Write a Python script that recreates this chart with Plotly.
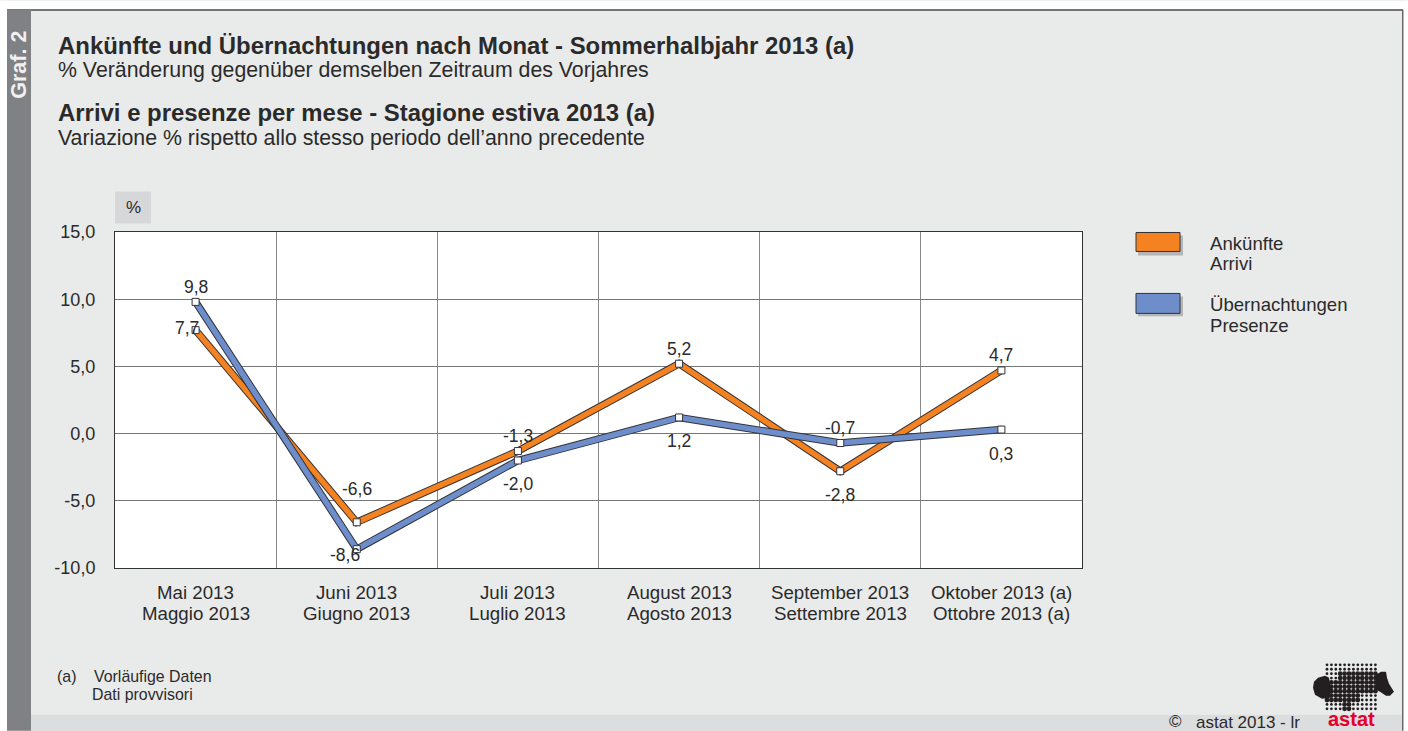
import numpy as np
import plotly.graph_objects as go

W, H = 1408, 731
LEFT, RIGHT, TOP, BOTTOM = 115, 1082, 231.5, 568
FONT = "Liberation Sans"
INK = "#2b2a2b"
PANEL = "#e9ebea"
ORANGE = "#f58220"
BLUE = "#6d8ecb"
OUTLINE = "#333338"

months_de = ["Mai 2013", "Juni 2013", "Juli 2013", "August 2013", "September 2013", "Oktober 2013 (a)"]
months_it = ["Maggio 2013", "Giugno 2013", "Luglio 2013", "Agosto 2013", "Settembre 2013", "Ottobre 2013 (a)"]
arrivals = [7.7, -6.6, -1.3, 5.2, -2.8, 4.7]
stays = [9.8, -8.6, -2.0, 1.2, -0.7, 0.3]
y_ticks = [-10, -5, 0, 5, 10, 15]
y_tick_labels = ["-10,0", "-5,0", "0,0", "5,0", "10,0", "15,0"]
arrival_offsets = [(-9, 2), (0, 33), (0, 15), (0, 15), (0, -24), (0, 15)]
stay_offsets = [(0, 15), (-12, -6), (0, -24), (0, -24), (0, 15), (0, -24)]


def px(x):
    return (x - LEFT) / (RIGHT - LEFT)


def py(y):
    return (BOTTOM - y) / (BOTTOM - TOP)


def rect(x0, y0, x1, y1, fill, line=None, lw=0, layer="below"):
    return dict(type="rect", xref="paper", yref="paper", x0=px(x0), x1=px(x1), y0=py(y0), y1=py(y1),
                fillcolor=fill, line=dict(color=line or fill, width=lw), layer=layer)


def note(x, y, text, size=17, bold=False, anchor="left", color=INK, angle=0):
    t = f"<b>{text}</b>" if bold else text
    return dict(xref="paper", yref="paper", x=px(x), y=py(y), text=t, showarrow=False, xanchor=anchor,
                yanchor="middle", textangle=angle, align="left", font=dict(family=FONT, size=size, color=color))


def polygon(points, fill):
    return dict(type="path", xref="paper", yref="paper", layer="above", fillcolor=fill, line=dict(width=0),
                path="M " + " L ".join(f"{px(x):.5f} {py(y):.5f}" for x, y in points) + " Z")


def dot(x, y, r, fill):
    return dict(type="circle", xref="paper", yref="paper", layer="above", fillcolor=fill, line=dict(width=0),
                x0=px(x - r), x1=px(x + r), y0=py(y + r), y1=py(y - r))


fig = go.Figure()
for values, colour in ((arrivals, ORANGE), (stays, BLUE)):
    fig.add_trace(go.Scatter(x=months_de, y=values, mode="lines", line=dict(color=OUTLINE, width=7.5), hoverinfo="skip"))
    fig.add_trace(go.Scatter(x=months_de, y=values, mode="lines+markers", line=dict(color=colour, width=5.5),
                             marker=dict(symbol="square", size=7, color="white", line=dict(color=OUTLINE, width=1))))

shapes = [
    rect(0, 0, W, 9, "white"), rect(0, 0, 7, H, "white"), rect(1403, 0, W, H, "white"),
    rect(7, 8.5, 1403, 10, "#4a4a4a"), rect(1402, 9, 1403.5, H, "#6a6a6a"),
    rect(7, 9, 31, H, "#808184"), rect(31, 715, 1402, H, "#dcddde"),
    rect(115, 191, 151, 223, "#d6d7d9"),
    rect(1138, 235, 1183, 255, "#b4b5b7"), rect(1136, 232, 1180, 251, ORANGE, OUTLINE, 1),
    rect(1138, 296, 1183, 316, "#b4b5b7"), rect(1136, 293, 1180, 313, BLUE, OUTLINE, 1),
]

annotations = [
    note(19, 64, "Graf. 2", 21.5, True, "center", "#f0f0f0", -90),
    note(55.5, 44.5, "Ankünfte und Übernachtungen nach Monat - Sommerhalbjahr 2013 (a)", 24 * 797 / 799, True),
    note(55.5, 69, "% Veränderung gegenüber demselben Zeitraum des Vorjahres", 21.3),
    note(55.5, 112, "Arrivi e presenze per mese - Stagione estiva 2013 (a)", 24 * 797 / 799, True),
    note(55.5, 137, "Variazione % rispetto allo stesso periodo dell’anno precedente", 21.3),
    note(133, 207, "%", 17, anchor="center"),
    note(1208, 243, "Ankünfte", 18.6), note(1208, 263, "Arrivi", 18.6),
    note(1208, 304, "Übernachtungen", 18.6), note(1208, 325, "Presenze", 18.6),
    note(55, 677, "(a)", 15.9), note(92, 677, "Vorläufige Daten", 15.9), note(90, 695, "Dati provvisori", 15.9),
    note(1167, 721.5, "©", 17), note(1194, 723, "astat 2013 - lr", 17),
    dict(note(1351, 719, "astat", 20, True, "center", "#e4002b"), borderpad=0),
]
for month, line_it in zip(months_de, months_it):
    for y, label in ((593, month), (614, line_it)):
        annotations.append(dict(x=month, xref="x", yref="paper", y=py(y), yanchor="middle", text=label,
                                showarrow=False, font=dict(family=FONT, size=18.7, color=INK)))
for values, offsets in ((arrivals, arrival_offsets), (stays, stay_offsets)):
    for month, value, (dx, dy) in zip(months_de, values, offsets):
        annotations.append(dict(x=month, y=value, xref="x", yref="y", text=f"{value:.1f}".replace(".", ","),
                                showarrow=False, xshift=dx, yshift=dy,
                                font=dict(family=FONT, size=17.5, color=INK)))

# logo: silhouette lobes plus a dot grid, denser inside the province outline
LOGO = "#231f20"
shapes.append(polygon([(1313, 688), (1314, 682), (1318, 678), (1325, 676), (1329, 678), (1331, 690), (1330, 698),
                       (1322, 699), (1315, 695)], LOGO))
shapes.append(polygon([(1376, 675), (1381, 672), (1386, 672), (1387, 678), (1389, 684), (1394, 692), (1390, 696),
                       (1386, 696), (1380, 692), (1376, 690)], LOGO))
for gy in np.arange(665, 712, 4.4):
    for gx in np.arange(1327, 1378, 4.4):
        inside = (672 <= gy <= 692 and not (gx < 1337 and gy < 680)) or (692 < gy <= 702 and gx < 1362) \
            or (702 < gy <= 714 and 1342 < gx < 1352)
        shapes.append(dot(gx, gy, 2.4 if inside else 1.4, LOGO))

fig.update_layout(
    width=W, height=H, autosize=False, showlegend=False,
    margin=dict(l=LEFT, r=W - RIGHT, t=TOP, b=H - BOTTOM, pad=0),
    paper_bgcolor=PANEL, plot_bgcolor="white",
    font=dict(family=FONT, size=18, color=INK),
    shapes=shapes, annotations=annotations,
    xaxis=dict(type="category", categoryorder="array", categoryarray=months_de, range=[-0.5, 5.5],
               tickson="boundaries", showgrid=True, gridcolor="#8a8a8a", gridwidth=1, ticks="", showticklabels=False,
               showline=True, linecolor="#333", linewidth=1, mirror=True, zeroline=False),
    yaxis=dict(range=[-10, 15], tickmode="array", tickvals=y_ticks, ticktext=y_tick_labels, showgrid=True,
               gridcolor="#777", gridwidth=1, ticks="", ticklabelstandoff=15, showline=True, linecolor="#333",
               linewidth=1, mirror=True, zeroline=False, tickfont=dict(family=FONT, size=18, color=INK)),
)

fig.write_html("out.html", config=dict(displayModeBar=False),
               post_script="document.body.style.margin='0';document.body.style.overflow='hidden';")
